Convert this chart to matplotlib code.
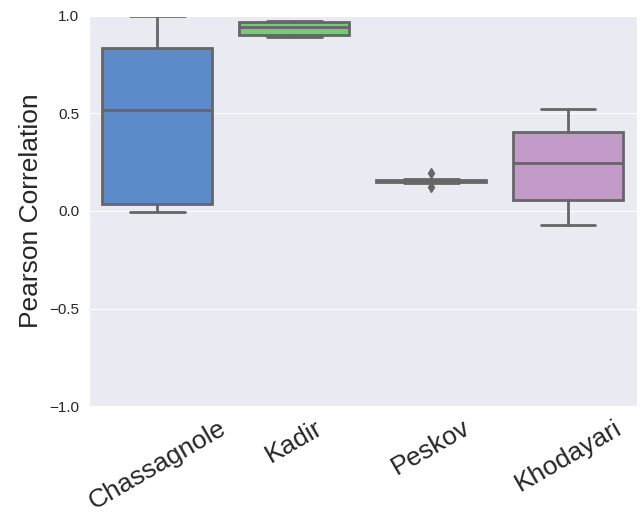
import matplotlib
matplotlib.use("Agg")
import matplotlib.pyplot as plt
import seaborn as sns

models = ["Chassagnole", "Kadir", "Peskov", "Khodayari"]
whislo = [-0.005, 0.89, 0.145, -0.072]
q1 = [0.036, 0.90, 0.148, 0.055]
med = [0.518, 0.945, 0.155, 0.245]
q3 = [0.836, 0.967, 0.158, 0.404]
whishi = [1.0, 0.972, 0.162, 0.525]
outliers = [[], [], [0.195, 0.123], []]
colors = ["#5b8bc9", "#78c87a", "#cc6b6b", "#c39bc9"]


def draw_box_plot():
    sns.set_style("darkgrid")
    plt.rcParams['font.family'] = ['Arial', 'Liberation Sans', 'DejaVu Sans']

    fig, ax = plt.subplots(figsize=(6.43, 5.14), dpi=100)

    stats = []
    for i in range(len(models)):
        stats.append({"label": models[i], "whislo": whislo[i], "q1": q1[i], "med": med[i],
                      "q3": q3[i], "whishi": whishi[i], "fliers": outliers[i]})

    gray = "#666666"
    bp = ax.bxp(stats, positions=range(len(models)), widths=0.8, patch_artist=True,
                boxprops=dict(edgecolor=gray, linewidth=2),
                medianprops=dict(color=gray, linewidth=2),
                whiskerprops=dict(color=gray, linewidth=2),
                capprops=dict(color=gray, linewidth=2),
                capwidths=0.4,
                flierprops=dict(marker="d", markerfacecolor=gray, markeredgecolor=gray, markersize=5))
    for patch, c in zip(bp["boxes"], colors):
        patch.set_facecolor(c)

    ax.set_xlim(-0.5, len(models) - 0.5)
    ax.set_ylim(-1.0, 1.0)
    ax.set_yticks([-1.0, -0.5, 0.0, 0.5, 1.0])
    ax.xaxis.grid(False)
    ax.set_xticks(range(len(models)))
    ax.set_xticklabels(models, rotation=30, fontsize=19)
    ax.tick_params(axis="y", labelsize=11)
    ax.set_ylabel("Pearson Correlation", fontsize=19)

    plt.subplots_adjust(left=0.138, right=0.99, top=0.969, bottom=0.21)
    plt.savefig("out.png")


if __name__ == "__main__":
    draw_box_plot()
